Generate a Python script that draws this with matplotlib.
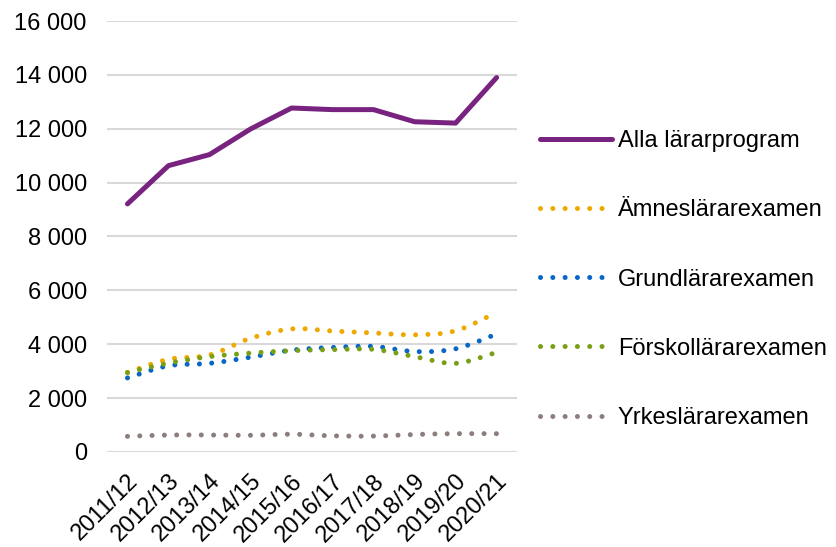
import matplotlib
matplotlib.use('Agg')
import matplotlib.pyplot as plt
import matplotlib.transforms as mtransforms
from matplotlib.path import Path
from matplotlib.patches import PathPatch
from matplotlib.lines import Line2D
from matplotlib.ticker import FuncFormatter
import numpy as np

plt.rcParams['font.family'] = ['Liberation Sans', 'DejaVu Sans']

years = ['2011/12', '2012/13', '2013/14', '2014/15', '2015/16',
         '2016/17', '2017/18', '2018/19', '2019/20', '2020/21']
alla = [9210, 10630, 11040, 11990, 12770, 12710, 12710, 12260, 12210, 13900]
amnes = [2950, 3440, 3600, 4220, 4570, 4490, 4420, 4350, 4500, 5180]
grund = [2750, 3200, 3290, 3520, 3780, 3880, 3920, 3730, 3830, 4380]
forskol = [2950, 3300, 3540, 3670, 3760, 3800, 3810, 3540, 3290, 3700]
yrkes = [580, 630, 630, 620, 660, 600, 590, 650, 680, 680]

series = [
    ('Ämneslärarexamen', amnes, '#EDA900'),
    ('Grundlärarexamen', grund, '#0866C6'),
    ('Förskollärarexamen', forskol, '#79A015'),
    ('Yrkeslärarexamen', yrkes, '#8C7E7D'),
]
alla_color = '#78237F'
lw = 3.6
dots = (0, (0.01, 2.45))


def smooth_path(x, y):
    # Excel-like smoothed line: cubic Bezier segments (Catmull-Rom control points)
    p = np.column_stack([x, y]).astype(float)
    n = len(p)
    verts = [p[0]]
    codes = [Path.MOVETO]
    for i in range(n - 1):
        p0 = p[i - 1] if i > 0 else p[i]
        p3 = p[i + 2] if i + 2 < n else p[i + 1]
        c1 = p[i] + (p[i + 1] - p0) / 6
        c2 = p[i + 1] - (p3 - p[i]) / 6
        verts += [c1, c2, p[i + 1]]
        codes += [Path.CURVE4] * 3
    return Path(verts, codes)


fig = plt.figure(figsize=(8.37, 5.47), dpi=100)
ax = fig.add_axes([0.1278, 0.1737, 0.490, 0.7879])

x = np.arange(len(years))
ax.plot(x, alla, color=alla_color, lw=lw, solid_capstyle='round',
        solid_joinstyle='round', zorder=5)

handles = [Line2D([], [], color=alla_color, lw=lw, solid_capstyle='round')]
labels = ['Alla lärarprogram']
for name, vals, col in series:
    patch = PathPatch(smooth_path(x, vals), facecolor='none', edgecolor=col,
                      lw=lw, linestyle=dots, capstyle='round', zorder=4)
    ax.add_patch(patch)
    handles.append(Line2D([], [], color=col, lw=lw, linestyle=dots,
                          dash_capstyle='round'))
    labels.append(name)

ax.set_xlim(-0.5, len(years) - 0.5)
ax.set_ylim(0, 16000)
ax.set_yticks(np.arange(0, 16001, 2000))
ax.yaxis.set_major_formatter(FuncFormatter(lambda v, p: f'{v:,.0f}'.replace(',', ' ')))
ax.set_xticks(x)
ax.set_xticklabels(years, rotation=45, ha='right', va='top', rotation_mode='anchor')
shift = mtransforms.ScaledTranslation(-5 / 100, 0, fig.dpi_scale_trans)
for lab in ax.get_xticklabels():
    lab.set_transform(lab.get_transform() + shift)

ax.grid(axis='y', color='#D9D9D9', lw=1.5)
ax.set_axisbelow(True)
for s in ax.spines.values():
    s.set_visible(False)
ax.tick_params(axis='y', length=0, pad=14.5, labelsize=17)
ax.tick_params(axis='x', length=0, pad=13, labelsize=17)

fig.legend(handles, labels, loc='center left', bbox_to_anchor=(0.645, 0.489),
           frameon=False, fontsize=17, handlelength=3.05, handletextpad=0.25,
           labelspacing=2.0, borderpad=0, borderaxespad=0)

fig.savefig('out.png', dpi=100)
